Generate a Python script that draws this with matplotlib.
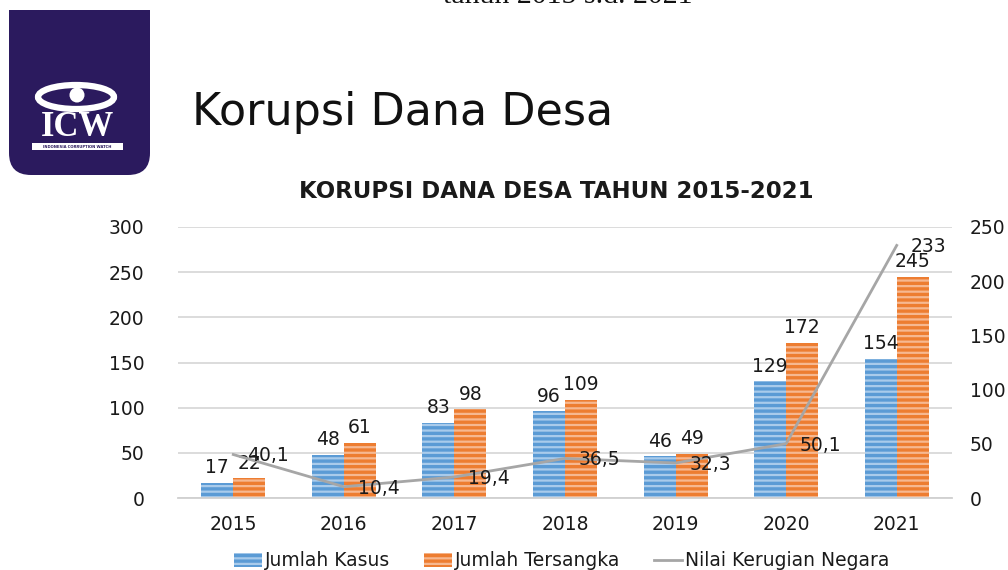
import numpy as np
import matplotlib.pyplot as plt
from matplotlib.patches import FancyBboxPatch, Rectangle, Ellipse, Circle
from matplotlib.lines import Line2D
from matplotlib.patches import Patch

# data
years = ['2015', '2016', '2017', '2018', '2019', '2020', '2021']
jumlah_kasus = [17, 48, 83, 96, 46, 129, 154]
jumlah_tersangka = [22, 61, 98, 109, 49, 172, 245]
nilai_kerugian = [40.1, 10.4, 19.4, 36.5, 32.3, 50.1, 233]
kerugian_labels = ['40,1', '10,4', '19,4', '36,5', '32,3', '50,1', '233']

blue = '#5B9BD5'
blue_stripe = '#A9CBEB'
orange = '#ED7D31'
orange_stripe = '#F6B891'
gray_line = '#A6A6A6'
txt = '#1A1A1A'

plt.rcParams['font.family'] = ['DejaVu Sans']
plt.rcParams['hatch.linewidth'] = 1.6

fig = plt.figure(figsize=(10.08, 5.70), dpi=100)

# --- decorations in pixel coordinates ---
deco = fig.add_axes([0, 0, 1, 1], zorder=0)
deco.set_xlim(0, 1008)
deco.set_ylim(570, 0)
deco.axis('off')

logo = FancyBboxPatch((9, -40), 141, 215, boxstyle='round,pad=0,rounding_size=22',
                      facecolor='#2B1A5E', edgecolor='none')
deco.add_patch(logo)
deco.add_patch(Rectangle((0, -50), 200, 60, facecolor='white', edgecolor='none'))
deco.add_patch(Ellipse((76, 97), 76, 24, facecolor='none', edgecolor='white', lw=4.5))
deco.add_patch(Circle((77, 95), 7.5, facecolor='white', edgecolor='none'))
deco.text(78, 128, 'ICW', color='white', fontsize=25, fontweight='bold',
          family='Liberation Serif', ha='center', va='center')
deco.add_patch(Rectangle((32, 143), 91, 7, facecolor='white', edgecolor='none'))
deco.text(77.5, 146.5, 'INDONESIA CORRUPTION WATCH', color='#2B1A5E', fontsize=2.7,
          fontweight='bold', ha='center', va='center')

deco.text(568, 3, 'tahun 2015 s.d. 2021', family='Liberation Serif', fontsize=21.5,
          color='#111111', ha='center', va='baseline')
deco.text(192, 113, 'Korupsi Dana Desa', fontsize=32, color='#111111',
          ha='left', va='center')
deco.text(556, 192, 'KORUPSI DANA DESA TAHUN 2015-2021', fontsize=16.5,
          fontweight='bold', color='#1A1A1A', ha='center', va='center')

# --- main chart ---
ax = fig.add_axes([178 / 1008, 1 - 498 / 570, (952 - 178) / 1008, (498 - 227) / 570], zorder=1)
ax.patch.set_alpha(0)
x = np.arange(len(years))
w = 0.29

b1 = ax.bar(x - w / 2, jumlah_kasus, w, color=blue, edgecolor=blue_stripe,
            linewidth=0, hatch='---', zorder=2)
b2 = ax.bar(x + w / 2, jumlah_tersangka, w, color=orange, edgecolor=orange_stripe,
            linewidth=0, hatch='---', zorder=2)

for xi, v in zip(x, jumlah_kasus):
    ax.annotate(str(v), (xi - w / 2, v), xytext=(0, 4), textcoords='offset points',
                ha='center', va='bottom', fontsize=13.5, color=txt, zorder=5)
for xi, v in zip(x, jumlah_tersangka):
    ax.annotate(str(v), (xi + w / 2, v), xytext=(0, 4), textcoords='offset points',
                ha='center', va='bottom', fontsize=13.5, color=txt, zorder=5)

ax.set_xlim(-0.5, len(years) - 0.5)
ax.set_ylim(0, 300)
ax.set_yticks(range(0, 301, 50))
ax.set_xticks(x)
ax.set_xticklabels(years)
ax.grid(axis='y', color='#D9D9D9', linewidth=1.3, zorder=0)
ax.set_axisbelow(True)
for s in ['top', 'right', 'left']:
    ax.spines[s].set_visible(False)
ax.spines['bottom'].set_color('#D0D0D0')
ax.spines['bottom'].set_linewidth(1.3)
ax.tick_params(axis='both', length=0, labelsize=13.5, labelcolor=txt)
ax.tick_params(axis='y', pad=24)
ax.tick_params(axis='x', pad=12)

ax2 = ax.twinx()
ax2.set_zorder(3)
ax2.patch.set_alpha(0)
ax2.plot(x, nilai_kerugian, color=gray_line, linewidth=2, zorder=3)
for xi, v, lab in zip(x, nilai_kerugian, kerugian_labels):
    ax2.annotate(lab, (xi, v), xytext=(10, -1), textcoords='offset points',
                 ha='left', va='center', fontsize=13.5, color=txt)
ax2.set_ylim(0, 250)
ax2.set_yticks(range(0, 251, 50))
for s in ['top', 'right', 'left', 'bottom']:
    ax2.spines[s].set_visible(False)
ax2.tick_params(axis='y', length=0, labelsize=13.5, labelcolor=txt, pad=13)

handles = [Patch(facecolor=blue, edgecolor=blue_stripe, hatch='---', linewidth=0),
           Patch(facecolor=orange, edgecolor=orange_stripe, hatch='---', linewidth=0),
           Line2D([0], [0], color=gray_line, linewidth=2)]
fig.legend(handles, ['Jumlah Kasus', 'Jumlah Tersangka', 'Nilai Kerugian Negara'],
           loc='center', bbox_to_anchor=(562 / 1008, 1 - 561 / 570), ncol=3,
           frameon=False, fontsize=13.5, handlelength=1.5, handletextpad=0.15,
           columnspacing=1.8, labelcolor=txt)

fig.savefig('out.png', dpi=100)
